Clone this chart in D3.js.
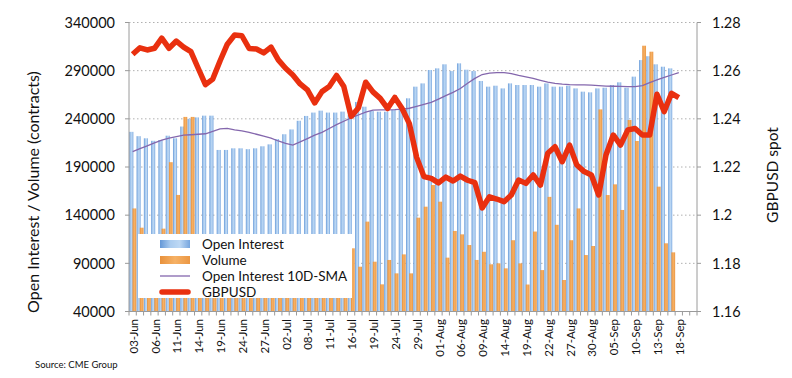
<!DOCTYPE html>
<html><head><meta charset="utf-8">
<script src="https://cdn.jsdelivr.net/npm/d3@7"></script>
<style>body{margin:0;background:#fff;} svg{display:block;font-family:Lato,"Open Sans",sans-serif;}</style>
</head><body><svg id="c" width="792" height="378"></svg>
<script>
const dates = ["03-Jun","04-Jun","05-Jun","06-Jun","07-Jun","10-Jun","11-Jun","12-Jun","13-Jun","14-Jun",
"17-Jun","18-Jun","19-Jun","20-Jun","21-Jun","24-Jun","25-Jun","26-Jun","27-Jun","28-Jun",
"01-Jul","02-Jul","03-Jul","05-Jul","08-Jul","09-Jul","10-Jul","11-Jul","12-Jul","15-Jul",
"16-Jul","17-Jul","18-Jul","19-Jul","22-Jul","23-Jul","24-Jul","25-Jul","26-Jul","29-Jul",
"30-Jul","31-Jul","01-Aug","02-Aug","05-Aug","06-Aug","07-Aug","08-Aug","09-Aug","12-Aug",
"13-Aug","14-Aug","15-Aug","16-Aug","19-Aug","20-Aug","21-Aug","22-Aug","23-Aug","26-Aug",
"27-Aug","28-Aug","29-Aug","30-Aug","03-Sep","04-Sep","05-Sep","06-Sep","09-Sep","10-Sep",
"11-Sep","12-Sep","13-Sep","16-Sep","17-Sep","18-Sep","19-Sep","20-Sep"];

const openInterest = [226500,222000,219800,217200,218000,222500,219800,232000,240000,241500,
243300,243300,207700,207700,209400,209400,208500,209400,211500,213500,
219000,224000,229000,238000,243000,246500,248500,246500,246500,247500,
244000,257500,252600,248100,247400,247400,249200,249200,261300,273400,
276800,290700,292400,296600,289600,297600,291000,289600,279300,273400,
274400,271600,276800,275100,275100,275100,273400,276800,273400,273400,
274400,271600,268200,267500,271600,272300,275100,277900,272300,283800,
301000,305000,296600,294100,292400];

const volume = [147000,127000,95000,90000,126000,195000,161000,242000,242000,110000,
95000,70000,60000,65000,70000,75000,70000,80000,75000,85000,
80000,90000,85000,100000,118000,90000,85000,80000,95000,90000,
105600,86500,133300,91700,68200,93500,79600,99300,79600,137400,
148800,171300,154000,95900,123600,120100,109000,93500,102000,89000,
90000,84800,114000,90000,68000,123000,83000,159000,130000,72700,
114000,147000,98600,108000,249800,160900,172000,145400,238800,217000,
315900,309700,169600,110800,101400];

const oiSMA = [206000,209000,212000,215000,218000,220000,221500,223000,223500,224000,
224500,227000,229500,230000,228500,227500,226000,224000,222000,220000,
217000,214500,212800,216000,219500,223000,226000,230000,234000,237500,
241000,244000,247000,249000,249200,249300,249500,250000,251000,253000,
255000,257000,260500,264000,267500,271500,277000,282000,286000,287500,
288000,288000,287000,285000,283500,282000,280000,278000,276800,276000,
275500,275300,275200,275000,274500,274000,273800,273600,273500,273400,
274500,277500,280500,283000,285500,288000];

const gbpusd = [1.2668,1.2695,1.2686,1.2693,1.2735,1.2693,1.2723,1.2698,1.2679,1.2610,
1.2542,1.2565,1.2640,1.2710,1.2748,1.2745,1.2692,1.2690,1.2674,1.2698,
1.2645,1.2610,1.2582,1.2545,1.2520,1.2466,1.2513,1.2534,1.2580,1.2534,
1.2410,1.2445,1.2552,1.2512,1.2485,1.2443,1.2489,1.2443,1.2380,1.2240,
1.2160,1.2153,1.2134,1.2158,1.2142,1.2162,1.2145,1.2135,1.2030,1.2076,
1.2067,1.2056,1.2084,1.2146,1.2132,1.2167,1.2125,1.2257,1.2284,1.2222,
1.2291,1.2208,1.2181,1.2167,1.2084,1.2250,1.2333,1.2291,1.2354,1.2360,
1.2333,1.2333,1.2502,1.2430,1.2506,1.2488];

const leftTicks = [40000,90000,140000,190000,240000,290000,340000];
const rightTicks = [1.16,1.18,1.2,1.22,1.24,1.26,1.28];
const rightTickLabels = ["1.16","1.18","1.2","1.22","1.24","1.26","1.28"];
const labelEvery = 3;
const seriesNames = ["Open Interest","Volume","Open Interest 10D-SMA","GBPUSD"];

const svg = d3.select("#c");
const L = 129, R = 697, T = 22.5, B = 311.5;
const x = d3.scaleBand().domain(dates).range([L, R]).padding(0);
const bw = x.bandwidth();
const yL = d3.scaleLinear().domain([40000, 340000]).range([B, T]);
const yR = d3.scaleLinear().domain([1.16, 1.28]).range([B, T]);

const defs = svg.append("defs");
const gb = defs.append("linearGradient").attr("id","gBlue").attr("x1",0).attr("x2",1).attr("y1",0).attr("y2",0);
[[0,"#6598d7"],[0.35,"#abccef"],[0.65,"#bdd8f4"],[1,"#76a5de"]].forEach(s=>gb.append("stop").attr("offset",s[0]).attr("stop-color",s[1]));
const go = defs.append("linearGradient").attr("id","gOrange").attr("x1",0).attr("x2",1).attr("y1",0).attr("y2",0);
[[0,"#e8913c"],[0.5,"#f6b165"],[1,"#eb9744"]].forEach(s=>go.append("stop").attr("offset",s[0]).attr("stop-color",s[1]));

// gridlines
svg.append("g").selectAll("line").data(leftTicks.slice(1)).join("line")
  .attr("x1",L).attr("x2",R).attr("y1",d=>yL(d)).attr("y2",d=>yL(d))
  .attr("stroke","#b0b0b0").attr("stroke-width",1).attr("stroke-dasharray","1.5,2.5");

// bars
svg.append("g").selectAll("rect").data(openInterest).join("rect")
  .attr("x",(d,i)=>x(dates[i])+bw*0.04).attr("width",bw*0.56)
  .attr("y",d=>yL(d)).attr("height",d=>B-yL(d)).attr("fill","url(#gBlue)");
svg.append("g").selectAll("rect").data(volume).join("rect")
  .attr("x",(d,i)=>x(dates[i])+bw*0.48).attr("width",bw*0.52)
  .attr("y",d=>yL(d)).attr("height",d=>B-yL(d)).attr("fill","url(#gOrange)");

// lines
const cx = i => x(dates[i]) + bw/2;
svg.append("path").datum(oiSMA)
  .attr("d", d3.line().x((d,i)=>cx(i)).y(d=>yL(d)))
  .attr("fill","none").attr("stroke","#8467ad").attr("stroke-width",1.3);
svg.append("path").datum(gbpusd)
  .attr("d", d3.line().x((d,i)=>cx(i)).y(d=>yR(d)))
  .attr("fill","none").attr("stroke","#e9300f").attr("stroke-width",5.5)
  .attr("stroke-linejoin","round").attr("stroke-linecap","butt");

// axes
const axC = "#9a9a9a";
svg.append("line").attr("x1",L).attr("x2",L).attr("y1",T).attr("y2",B).attr("stroke",axC);
svg.append("line").attr("x1",R).attr("x2",R).attr("y1",T).attr("y2",B).attr("stroke",axC);
svg.append("line").attr("x1",L).attr("x2",R).attr("y1",B).attr("y2",B).attr("stroke",axC);
svg.append("g").selectAll("line").data(leftTicks).join("line")
  .attr("x1",L-4).attr("x2",L).attr("y1",d=>yL(d)).attr("y2",d=>yL(d)).attr("stroke",axC);
svg.append("g").selectAll("line").data(rightTicks).join("line")
  .attr("x1",R).attr("x2",R+4).attr("y1",d=>yR(d)).attr("y2",d=>yR(d)).attr("stroke",axC);
svg.append("g").selectAll("line").data(dates.concat(["end"])).join("line")
  .attr("x1",(d,i)=>L+i*bw).attr("x2",(d,i)=>L+i*bw).attr("y1",B).attr("y2",B+4).attr("stroke",axC);

svg.append("g").selectAll("text").data(leftTicks).join("text")
  .attr("x",115).attr("y",d=>yL(d)).attr("dy","0.36em").attr("text-anchor","end")
  .attr("font-size",14.5).attr("fill","#111").text(d=>d);
svg.append("g").selectAll("text").data(rightTicks).join("text")
  .attr("x",712).attr("y",d=>yR(d)).attr("dy","0.36em")
  .attr("font-size",14.5).attr("fill","#111").text((d,i)=>rightTickLabels[i]);
svg.append("g").selectAll("text").data(dates.filter((d,i)=>i%labelEvery===0)).join("text")
  .attr("transform",d=>`translate(${x(d)+bw/2+1},319) rotate(-90)`)
  .attr("dy","0.35em").attr("text-anchor","end").attr("font-size",11.5).attr("fill","#111").text(d=>d);

svg.append("text").attr("transform","translate(33,192) rotate(-90)").attr("text-anchor","middle")
  .attr("dy","0.35em").attr("font-size",16).attr("fill","#111").text("Open Interest / Volume (contracts)");
svg.append("text").attr("transform","translate(773,175) rotate(-90)").attr("text-anchor","middle")
  .attr("dy","0.35em").attr("font-size",15.5).attr("fill","#111").text("GBPUSD spot");
svg.append("text").attr("x",35).attr("y",368).attr("font-size",9.5).attr("fill","#111").text("Source: CME Group");

// legend
const lg = svg.append("g");
lg.append("rect").attr("x",138).attr("y",234).attr("width",214).attr("height",64).attr("fill","#fff");
const ly = [244, 260, 276, 292];
lg.append("rect").attr("x",160).attr("y",ly[0]-4).attr("width",30).attr("height",8).attr("fill","url(#gBlue)");
lg.append("rect").attr("x",160).attr("y",ly[1]-4).attr("width",30).attr("height",8).attr("fill","url(#gOrange)");
lg.append("line").attr("x1",160).attr("x2",190).attr("y1",ly[2]).attr("y2",ly[2]).attr("stroke","#8467ad").attr("stroke-width",1.3);
lg.append("line").attr("x1",162).attr("x2",188).attr("y1",ly[3]).attr("y2",ly[3]).attr("stroke","#e9300f").attr("stroke-width",5.5).attr("stroke-linecap","round");
lg.selectAll("text").data(seriesNames).join("text")
  .attr("x",202).attr("y",(d,i)=>ly[i]).attr("dy","0.36em").attr("font-size",13.5).attr("fill","#111").text(d=>d);
</script></body></html>
